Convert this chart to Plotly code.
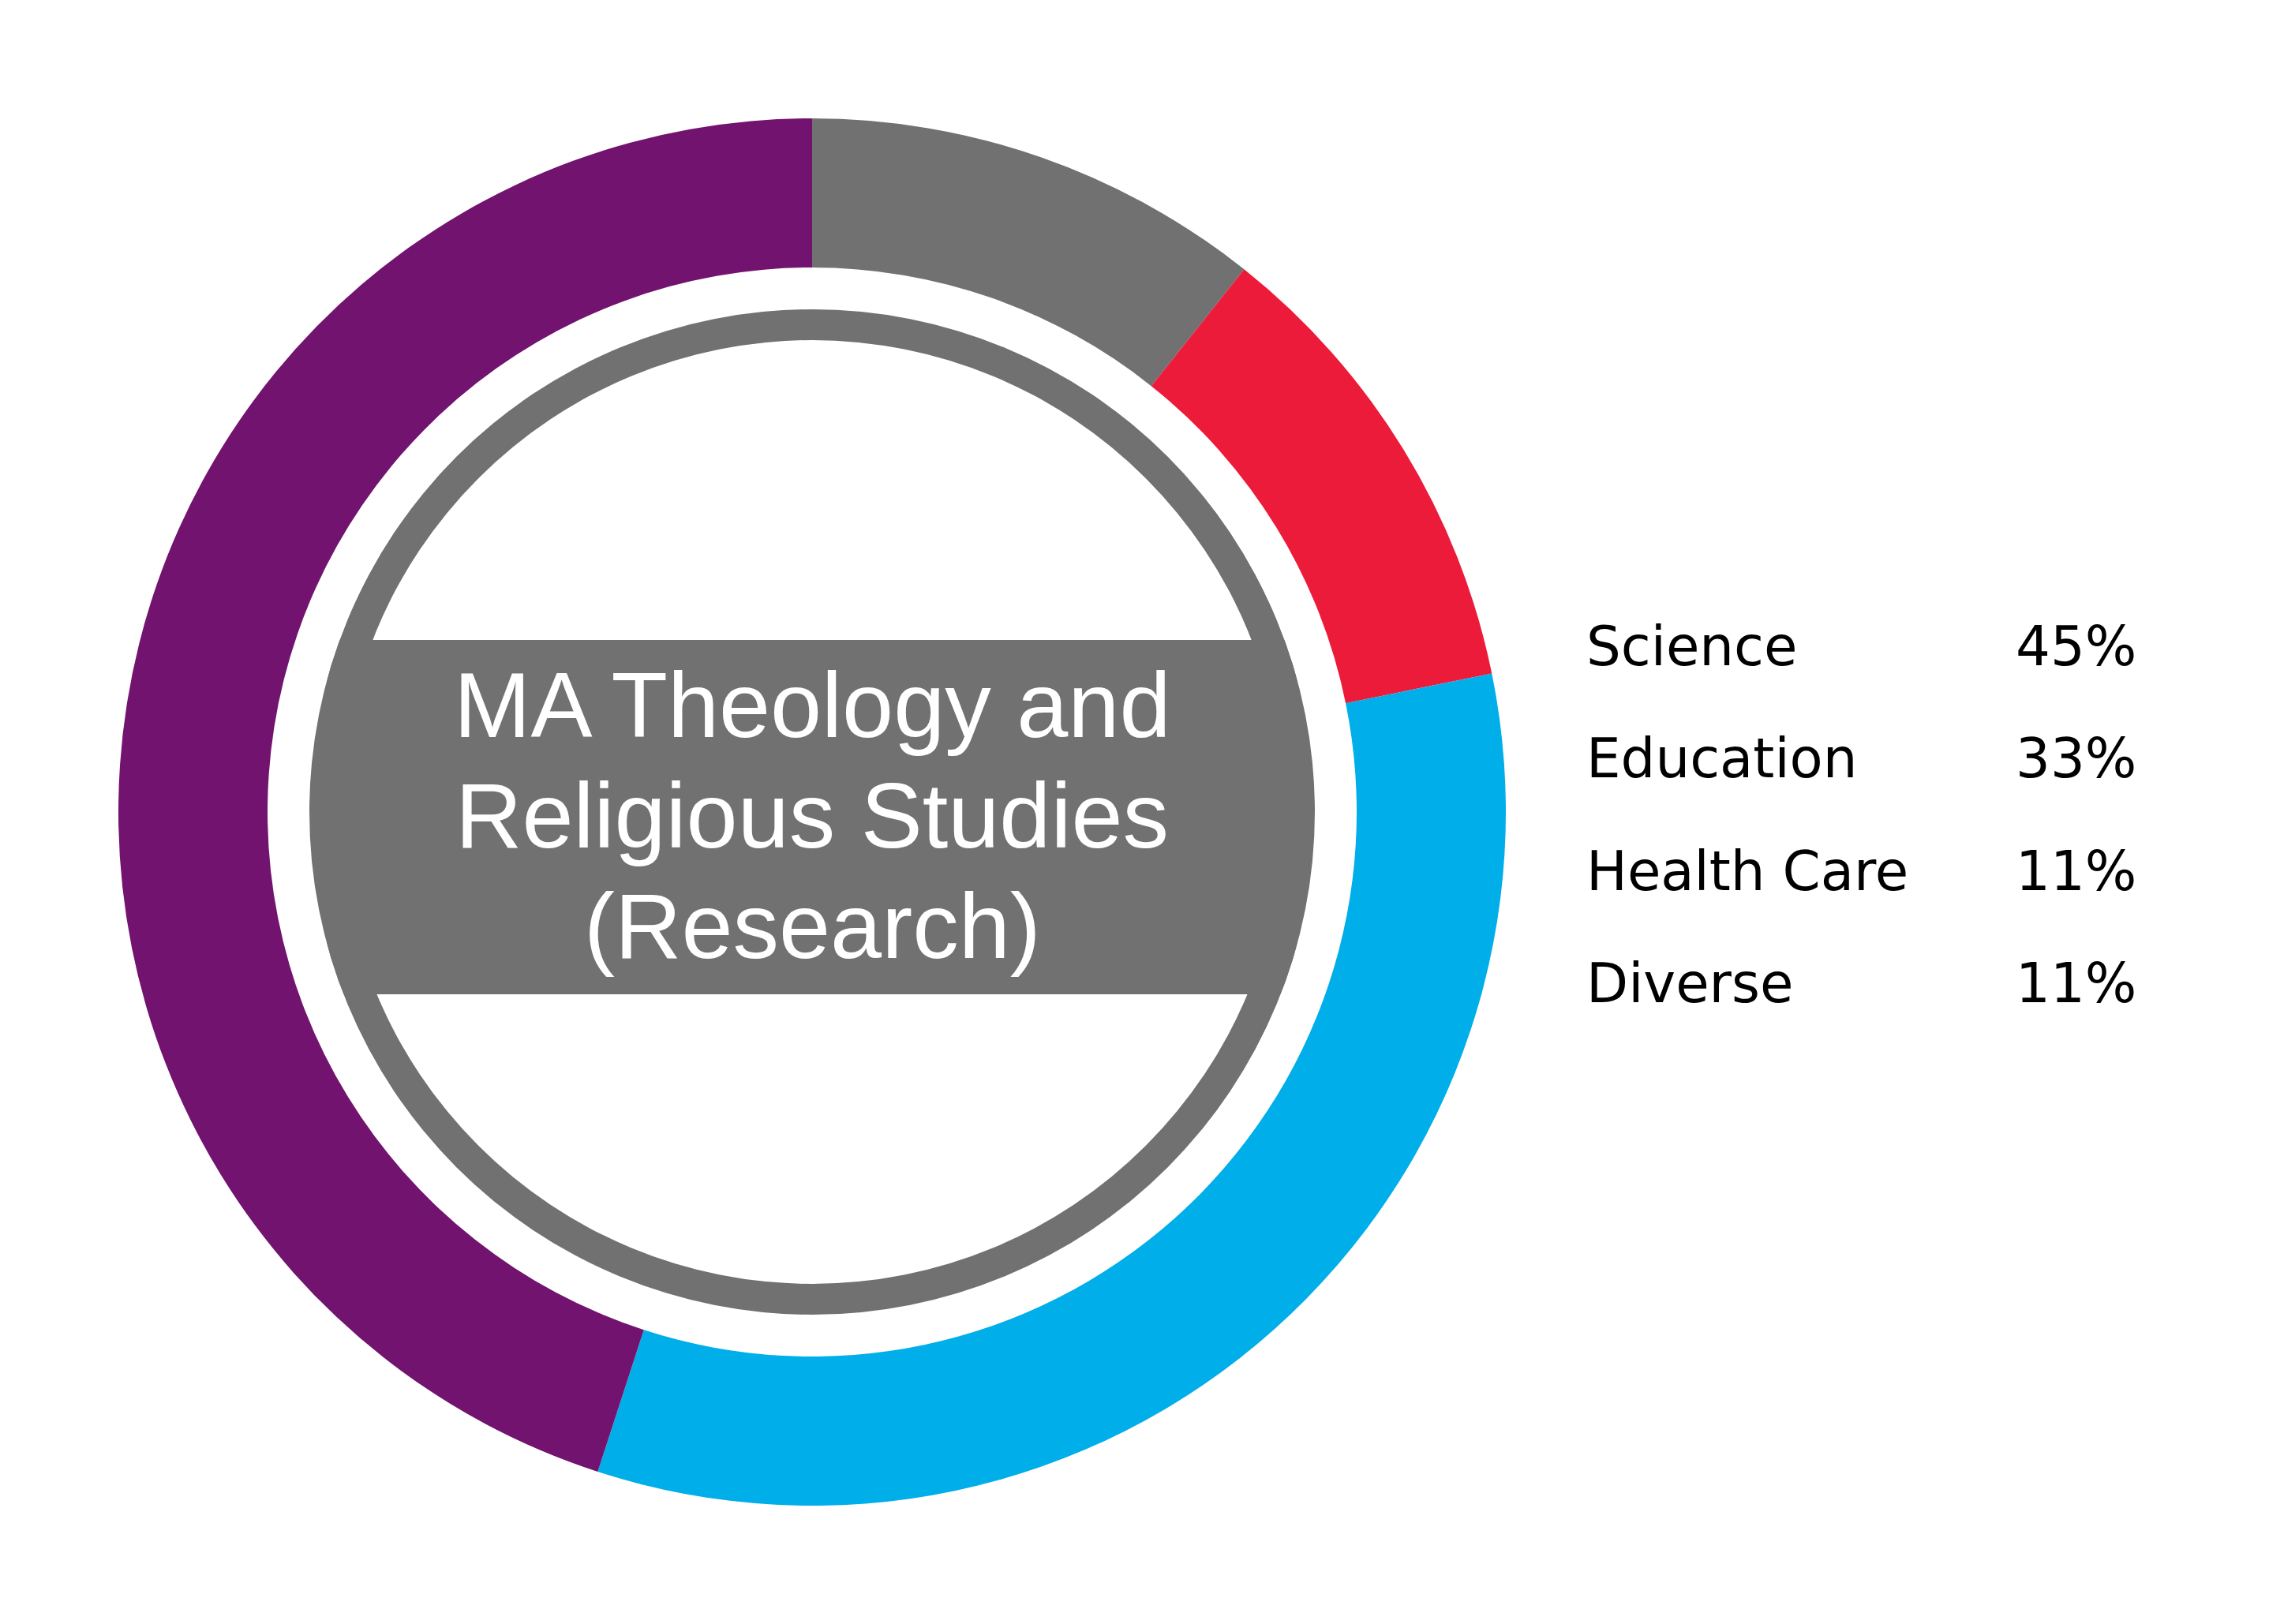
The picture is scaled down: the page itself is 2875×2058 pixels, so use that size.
import plotly.graph_objects as go

# Programme destination shares (legend order); slice sizes
categories = ["Science", "Education", "Health Care", "Diverse"]
shares = [45, 33.2, 11.1, 10.7]
share_labels = ["45%", "33%", "11%", "11%"]
colors = ["#72136F", "#00AEEA", "#ED1B3A", "#717171"]

title_lines = ["MA Theology and", "Religious Studies", "(Research)"]

W, H = 2875, 2058
GREY = "#717171"

# ring geometry in pixels
cx, cy = 1029, 1029
r_outer, r_inner = 879, 690
r_grey_out, r_grey_in = 637, 598


def dom(r):
    return dict(x=[(cx - r) / W, (cx + r) / W], y=[1 - (cy + r) / H, 1 - (cy - r) / H])


fig = go.Figure()

# white gap ring (hides the band's corners)
fig.add_trace(go.Pie(
    values=[1], marker=dict(colors=["white"], line=dict(width=0)),
    hole=r_grey_out / r_inner, domain=dom(r_inner),
    textinfo="none", hoverinfo="skip", showlegend=False, sort=False,
))

# thin grey ring
fig.add_trace(go.Pie(
    values=[1], marker=dict(colors=[GREY], line=dict(width=0)),
    hole=r_grey_in / r_grey_out, domain=dom(r_grey_out),
    textinfo="none", hoverinfo="skip", showlegend=False, sort=False,
))

# main donut: clockwise from 12 o'clock, Diverse first
fig.add_trace(go.Pie(
    labels=categories[::-1],
    values=shares[::-1],
    marker=dict(colors=colors[::-1], line=dict(width=0)),
    hole=r_inner / r_outer, domain=dom(r_outer),
    sort=False, direction="clockwise", rotation=0,
    textinfo="none", showlegend=False,
    hovertemplate="%{label}<extra></extra>",
))

# grey band behind the title
band_half = 615
fig.add_shape(
    type="rect", xref="paper", yref="paper", layer="below",
    x0=(cx - band_half) / W, x1=(cx + band_half) / W,
    y0=1 - 1260 / H, y1=1 - 811 / H,
    fillcolor=GREY, line=dict(width=0),
)

annotations = []
for i, line in enumerate(title_lines):
    annotations.append(dict(
        text=line, x=cx / W, y=1 - (893.5 + i * 140) / H,
        xref="paper", yref="paper", xanchor="center", yanchor="middle",
        showarrow=False,
        font=dict(family="Liberation Sans, Arial", size=117, color="white"),
    ))

# legend as text rows
for i, (cat, lab) in enumerate(zip(categories, share_labels)):
    y = 1 - (819 + i * 142.3) / H
    annotations.append(dict(
        text=cat, x=2008 / W, y=y, xref="paper", yref="paper",
        xanchor="left", yanchor="middle", showarrow=False,
        font=dict(family="DejaVu Sans", size=69, color="black"),
    ))
    annotations.append(dict(
        text=lab, x=2709 / W, y=y, xref="paper", yref="paper",
        xanchor="right", yanchor="middle", showarrow=False,
        font=dict(family="DejaVu Sans", size=69, color="black"),
    ))

fig.update_layout(
    width=W, height=H,
    margin=dict(l=0, r=0, t=0, b=0),
    paper_bgcolor="white", plot_bgcolor="white",
    annotations=annotations,
)

fig.write_html(
    "out.html",
    config={"displayModeBar": False},
    post_script="document.body.style.margin='0';",
)
